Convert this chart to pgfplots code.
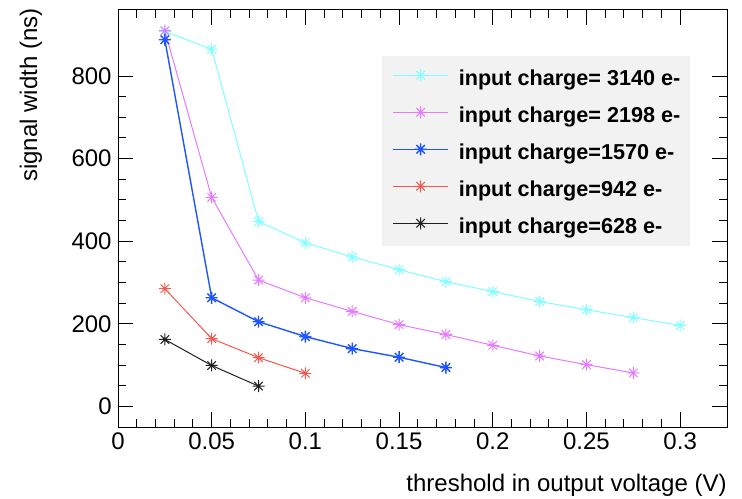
\documentclass[border=0pt]{standalone}
\usepackage{fontspec}
\setmainfont{Liberation Sans}
\usepackage{pgfplots}
\pgfplotsset{compat=1.18}

\definecolor{ccyan}{HTML}{7FFFFF}
\definecolor{cmag}{HTML}{E57AFF}
\definecolor{cblue}{HTML}{1F55FF}
\definecolor{cred}{HTML}{F25A50}
\definecolor{cblack}{HTML}{202020}
\definecolor{legbg}{HTML}{F2F2F2}

% ROOT style asterisk: a plus and a cross
\pgfdeclareplotmark{rstar}{%
  \pgfpathmoveto{\pgfqpoint{-\pgfplotmarksize}{0pt}}%
  \pgfpathlineto{\pgfqpoint{\pgfplotmarksize}{0pt}}%
  \pgfpathmoveto{\pgfqpoint{0pt}{-\pgfplotmarksize}}%
  \pgfpathlineto{\pgfqpoint{0pt}{\pgfplotmarksize}}%
  \pgfpathmoveto{\pgfqpoint{-0.707\pgfplotmarksize}{-0.707\pgfplotmarksize}}%
  \pgfpathlineto{\pgfqpoint{0.707\pgfplotmarksize}{0.707\pgfplotmarksize}}%
  \pgfpathmoveto{\pgfqpoint{-0.707\pgfplotmarksize}{0.707\pgfplotmarksize}}%
  \pgfpathlineto{\pgfqpoint{0.707\pgfplotmarksize}{-0.707\pgfplotmarksize}}%
  \pgfusepathqstroke}

\begin{document}
\begin{tikzpicture}
\path[use as bounding box] (-59pt,-35.5pt) rectangle (312pt,213.5pt);
\begin{axis}[
    scale only axis,
    width=304.5pt, height=208.5pt,
    xmin=0, xmax=0.325,
    ymin=-50, ymax=960,
    xtick={0,0.05,0.1,0.15,0.2,0.25,0.3},
    ytick={0,200,400,600,800},
    minor x tick num=4,
    minor y tick num=3,
    tick align=inside,
    major tick length=7.5pt,
    minor tick length=3.8pt,
    tick style={black, line width=0.5pt},
    axis line style={line width=0.5pt},
    /pgf/number format/fixed,
    /pgf/number format/assume math mode=true,
    tick label style={font=\fontsize{12}{14}\selectfont},
    xticklabel style={inner sep=0pt, anchor=north, yshift=-2.5pt},
    yticklabel style={inner sep=0pt, anchor=east, xshift=-3pt},
    label style={font=\fontsize{12}{14}\selectfont},
    xlabel={threshold in output voltage (V)},
    ylabel={signal width (ns)},
    xlabel style={at={(axis description cs:1,-0.112)}, anchor=north east, inner sep=0pt},
    ylabel style={at={(axis description cs:-0.162,1.005)}, anchor=north east, inner sep=0pt},
    mark size=3pt,
    every axis plot/.append style={line width=0.5pt, mark=rstar},
    legend cell align=left,
    legend style={
        at={(axis description cs:0.4335,0.89)}, anchor=north west,
        fill=legbg, draw=none,
        font=\bfseries\fontsize{10.8}{11}\selectfont,
        inner xsep=5pt, inner ysep=6.5pt,
        row sep=10.5pt,
        nodes={inner sep=0pt, text height=8pt, text depth=0pt},
        /tikz/every odd column/.append style={column sep=5pt},
    },
    legend image code/.code={
        \draw[mark repeat=2, mark phase=2, yshift=1pt]
        plot coordinates {(0pt,0pt) (13.75pt,0pt) (27.5pt,0pt)};
    },
]
\addplot[color=ccyan] coordinates {
    (0.025,908) (0.05,865) (0.075,448) (0.1,396) (0.125,362) (0.15,331)
    (0.175,302) (0.2,278) (0.225,254) (0.25,234) (0.275,215) (0.3,196)};
\addlegendentry{input charge= 3140 e-}
\addplot[color=cmag] coordinates {
    (0.025,910) (0.05,506) (0.075,306) (0.1,263) (0.125,230) (0.15,198)
    (0.175,174) (0.2,148) (0.225,122) (0.25,101) (0.275,81)};
\addlegendentry{input charge= 2198 e-}
\addplot[color=cblue, line width=0.7pt] coordinates {
    (0.025,888) (0.05,263) (0.075,205) (0.1,169) (0.125,140) (0.15,119)
    (0.175,94)};
\addlegendentry{input charge=1570 e-}
\addplot[color=cred] coordinates {
    (0.025,285) (0.05,164) (0.075,118) (0.1,80)};
\addlegendentry{input charge=942 e-}
\addplot[color=cblack] coordinates {
    (0.025,162) (0.05,99) (0.075,49)};
\addlegendentry{input charge=628 e-}
\end{axis}
\end{tikzpicture}
\end{document}
